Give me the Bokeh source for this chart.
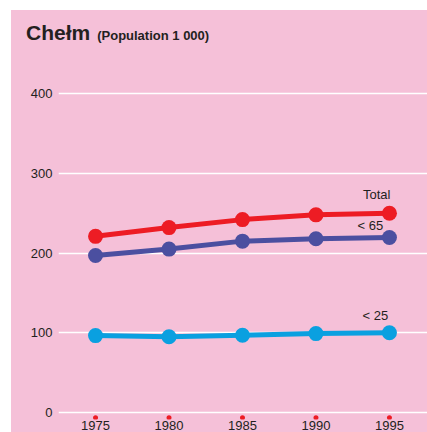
from bokeh.plotting import figure
from bokeh.models import Label, FixedTicker, Range1d, Div
from bokeh.layouts import column
from bokeh.embed import file_html
from bokeh.resources import INLINE

years = [1975, 1980, 1985, 1990, 1995]
total = [221, 232, 242, 248, 250]
under65 = [197, 205, 215, 218, 219.5]
under25 = [96.5, 95, 97, 99, 100]
y_ticks = [0, 100, 200, 300, 400]

PINK = "#F5C0D8"
RED = "#ED1C24"
PURPLE = "#4B4FA0"
CYAN = "#0AA0E0"
TXT = "#231F20"
FONT = "Liberation Sans"

X0, X1 = 1972.48, 1997.59
Y0, Y1 = -8.8, 454.2

title = Div(
    text=('<div style="padding:13px 0 0 15px; white-space:nowrap; color:#231F20; '
          'font-family:\'Liberation Sans\', sans-serif; font-weight:bold; line-height:20px">'
          '<span style="font-size:21px">Chełm</span>'
          '<span style="font-size:13px; margin-left:7px">(Population 1 000)</span></div>'),
    width=416, height=40, margin=(10, 0, 0, 11),
    styles={"background-color": PINK})

p = figure(width=416, height=382, output_backend="svg", toolbar_location=None,
           x_range=Range1d(X0, X1), y_range=Range1d(Y0, Y1),
           min_border_left=47, min_border_right=0, min_border_top=0, min_border_bottom=10)
p.margin = (0, 0, 0, 11)
p.styles = {"background-color": PINK}
p.background_fill_color = PINK
p.border_fill_color = PINK
p.outline_line_color = None

p.xgrid.grid_line_color = None
p.ygrid.grid_line_color = "white"
p.ygrid.grid_line_width = 1.5
p.yaxis.ticker = FixedTicker(ticks=y_ticks)
p.xaxis.ticker = FixedTicker(ticks=years)
for ax in (p.xaxis[0], p.yaxis[0]):
    ax.axis_line_color = None
    ax.major_tick_line_color = None
    ax.minor_tick_line_color = None
    ax.major_tick_out = 0
    ax.major_tick_in = 0
    ax.major_label_text_font = FONT
    ax.major_label_text_font_size = "13px"
    ax.major_label_text_color = TXT
p.yaxis.major_label_standoff = 6
p.xaxis.major_label_standoff = 1

# red tick dots
p.scatter(years, [-6.5] * len(years), size=5, color=RED, line_color=None)

for vals, col in ((under25, CYAN), (under65, PURPLE), (total, RED)):
    p.line(years, vals, line_width=5, color=col)
    p.scatter(years, vals, size=15, color=col, line_color=None)

def lab(text, y, xo, yo):
    p.add_layout(Label(x=years[-1], y=y, x_offset=xo, y_offset=yo, text=text,
                       text_align="right", text_baseline="alphabetic",
                       text_font=FONT, text_font_size="13px", text_color=TXT))

lab("Total", total[-1], 1, 19)
lab("< 65", under65[-1], -6.3, 12.5)
lab("< 25", under25[-1], -1.3, 17)

layout = column(title, p, spacing=0)
open("out.html", "w").write(file_html(layout, INLINE))
